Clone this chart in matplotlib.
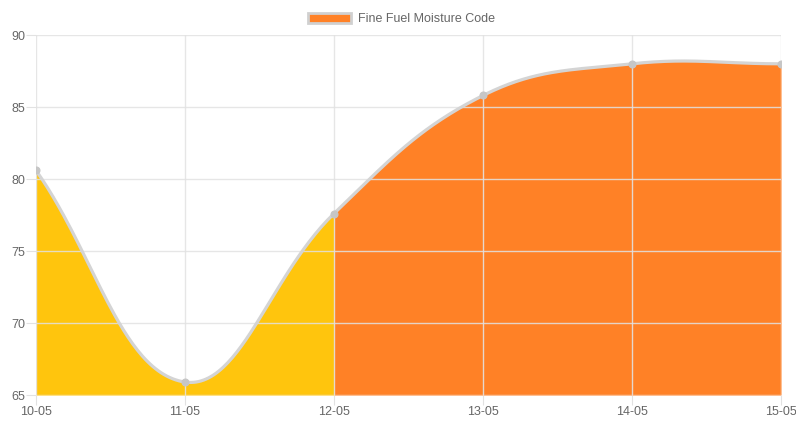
import numpy as np
import matplotlib.pyplot as plt

# données
labels = ['10-05', '11-05', '12-05', '13-05', '14-05', '15-05']
values = [80.6, 65.9, 77.6, 85.8, 88.0, 88.0]
seg_colors = ['#FFC50D', '#FFC50D', '#FF8126', '#FF8126', '#FF8126']
series_name = 'Fine Fuel Moisture Code'
y_min, y_max = 65, 90

fig = plt.figure(figsize=(7.96, 4.21), dpi=100)
ax = fig.add_axes([36 / 796, 1 - 395 / 421, 745 / 796, 360 / 421])
ax.set_xlim(0, len(labels) - 1)
ax.set_ylim(y_min, y_max)

# échelle pixel pour la courbe de Bézier (tension 0.4, façon Chart.js)
sx = 745 / (len(labels) - 1)
sy = 360 / (y_max - y_min)
xs = np.arange(len(labels), dtype=float)
P = np.column_stack([xs * sx, (np.array(values) - y_min) * sy])
t = 0.4
n = len(P)
c_prev = P.copy()
c_next = P.copy()
for i in range(n):
    a = P[i - 1] if i > 0 else P[i]
    b = P[i + 1] if i < n - 1 else P[i]
    d01 = np.hypot(*(P[i] - a))
    d12 = np.hypot(*(b - P[i]))
    s01 = d01 / (d01 + d12) if d01 + d12 else 0
    s12 = d12 / (d01 + d12) if d01 + d12 else 0
    c_prev[i] = P[i] - t * s01 * (b - a)
    c_next[i] = P[i] + t * s12 * (b - a)

u = np.linspace(0, 1, 60)[:, None]
curve_x, curve_y = [], []
for i in range(n - 1):
    p0, p1, p2, p3 = P[i], c_next[i], c_prev[i + 1], P[i + 1]
    pts = ((1 - u) ** 3) * p0 + 3 * ((1 - u) ** 2) * u * p1 + 3 * (1 - u) * u ** 2 * p2 + u ** 3 * p3
    px = pts[:, 0] / sx
    py = pts[:, 1] / sy + y_min
    ax.fill_between(px, py, y_min, color=seg_colors[i], lw=0, zorder=1)
    curve_x.append(px)
    curve_y.append(py)

curve_x = np.concatenate(curve_x)
curve_y = np.concatenate(curve_y)
ax.plot(curve_x, curve_y, color='#d4d4d4', lw=2.3, zorder=3, solid_capstyle='round')
ax.plot(xs, values, 'o', ms=4.8, color='#c6c6c6', zorder=4)

# grille par-dessus le remplissage
ax.set_xticks(xs)
ax.set_xticklabels(labels)
ax.set_yticks(np.arange(y_min, y_max + 1, 5))
ax.grid(True, color='#e2e2e2', alpha=0.85, lw=1, zorder=2)
ax.set_axisbelow(False)
for s in ax.spines.values():
    s.set_visible(False)
ax.tick_params(length=7, color='#e2e2e2', labelcolor='#666666', labelsize=9, pad=1)
for lab in ax.get_xticklabels() + ax.get_yticklabels():
    lab.set_fontfamily('Liberation Sans')

# légende
leg = ax.legend([plt.Rectangle((0, 0), 1, 1, fc='#FF8126', ec='#d0d0d0', lw=2)], [series_name],
                loc='lower center', bbox_to_anchor=(0.5 - 7 / 745, 1.0), frameon=False,
                handlelength=3.4, handleheight=0.9, handletextpad=0.6,
                prop={'family': 'Liberation Sans', 'size': 9}, borderaxespad=0.4)
for txt in leg.get_texts():
    txt.set_color('#666666')

fig.savefig('out.png', dpi=100)
